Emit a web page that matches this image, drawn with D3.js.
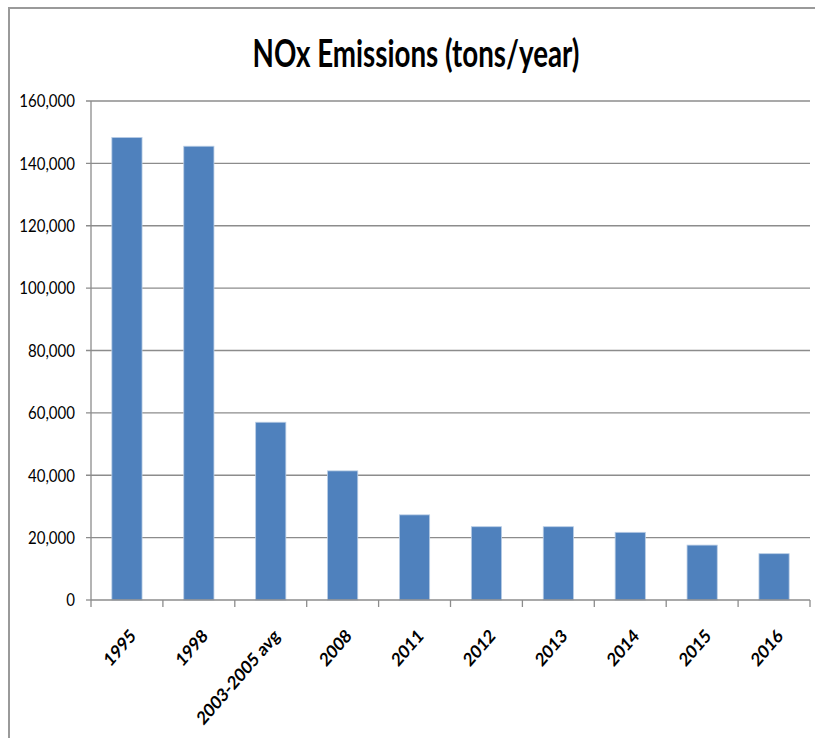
<!DOCTYPE html>
<html>
<head>
<meta charset="utf-8">
<script src="https://cdn.jsdelivr.net/npm/d3@7"></script>
<style>
  html, body { margin: 0; padding: 0; background: #fff; }
  svg { display: block; }
</style>
</head>
<body>
<svg id="chart" width="815" height="738"></svg>
<script>
// NOx emissions by year (tons/year)
const categories = ["1995", "1998", "2003-2005 avg", "2008", "2011", "2012", "2013", "2014", "2015", "2016"];
const emissions = [148300, 145500, 57000, 41400, 27300, 23500, 23500, 21700, 17600, 14850];
const yTicks = [0, 20000, 40000, 60000, 80000, 100000, 120000, 140000, 160000];
const titleText = "NOx Emissions (tons/year)";

const fontFamily = "Lato, 'Open Sans', sans-serif";
const svg = d3.select("#chart");

// outer chart frame
svg.append("rect")
  .attr("x", 9).attr("y", 8)
  .attr("width", 900).attr("height", 800)
  .attr("fill", "none")
  .attr("stroke", "#9a9a9a")
  .attr("stroke-width", 2);

const plot = { left: 91, right: 810, top: 101, bottom: 600 };
const gridColor = "#8c8c8c";

const x = d3.scaleBand()
  .domain(categories)
  .range([plot.left, plot.right])
  .paddingInner(0.58)
  .paddingOuter(0.29);

const y = d3.scaleLinear()
  .domain([0, 160000])
  .range([plot.bottom, plot.top]);

// horizontal gridlines (with short outer ticks on the left)
svg.append("g")
  .selectAll("line")
  .data(yTicks)
  .join("line")
  .attr("x1", plot.left - 5)
  .attr("x2", d => d === 0 ? plot.left : plot.right)
  .attr("y1", d => y(d))
  .attr("y2", d => y(d))
  .attr("stroke", gridColor)
  .attr("stroke-width", 1.3);

// vertical value axis line
svg.append("line")
  .attr("x1", plot.left).attr("x2", plot.left)
  .attr("y1", plot.top).attr("y2", plot.bottom)
  .attr("stroke", gridColor).attr("stroke-width", 1.3);

// value labels, slightly condensed
const fmt = d3.format(",");
svg.append("g")
  .selectAll("g")
  .data(yTicks)
  .join("g")
  .attr("transform", d => `translate(${plot.left - 16},${y(d)}) scale(0.86,1)`)
  .append("text")
  .attr("text-anchor", "end")
  .attr("dy", "0.36em")
  .attr("font-family", fontFamily)
  .attr("font-size", 17.5)
  .attr("fill", "#000")
  .text(d => fmt(d));

// bars
svg.append("g")
  .selectAll("rect")
  .data(categories.map((c, i) => ({ c, v: emissions[i] })))
  .join("rect")
  .attr("x", d => x(d.c))
  .attr("y", d => y(d.v))
  .attr("width", x.bandwidth())
  .attr("height", d => y(0) - y(d.v))
  .attr("fill", "#4f81bd")
  .attr("stroke", "#b9cde5")
  .attr("stroke-width", 0.8);

// category axis line with ticks at category boundaries
const boundaries = d3.range(categories.length + 1)
  .map(i => plot.left + i * (plot.right - plot.left) / categories.length);
svg.append("line")
  .attr("x1", plot.left).attr("x2", plot.right)
  .attr("y1", plot.bottom).attr("y2", plot.bottom)
  .attr("stroke", gridColor).attr("stroke-width", 1.3);
svg.append("g")
  .selectAll("line")
  .data(boundaries)
  .join("line")
  .attr("x1", d => d).attr("x2", d => d)
  .attr("y1", plot.bottom).attr("y2", plot.bottom + 7)
  .attr("stroke", gridColor).attr("stroke-width", 1.3);

// rotated category labels (condensed horizontally)
svg.append("g")
  .selectAll("text")
  .data(categories)
  .join("text")
  .attr("transform", d => `translate(${x(d) + x.bandwidth() / 2 + 2},${plot.bottom + 28}) scale(0.87,1) rotate(-45)`)
  .attr("text-anchor", "end")
  .attr("dy", "0.7em")
  .attr("font-family", fontFamily)
  .attr("font-weight", "bold")
  .attr("font-size", 18.5)
  .attr("fill", "#000")
  .text(d => d);

// title
svg.append("g")
  .attr("transform", "translate(416,67) scale(0.74,1)")
  .append("text")
  .attr("text-anchor", "middle")
  .attr("font-family", fontFamily)
  .attr("font-weight", "bold")
  .attr("font-size", 37.5)
  .attr("fill", "#000")
  .text(titleText);
</script>
</body>
</html>
